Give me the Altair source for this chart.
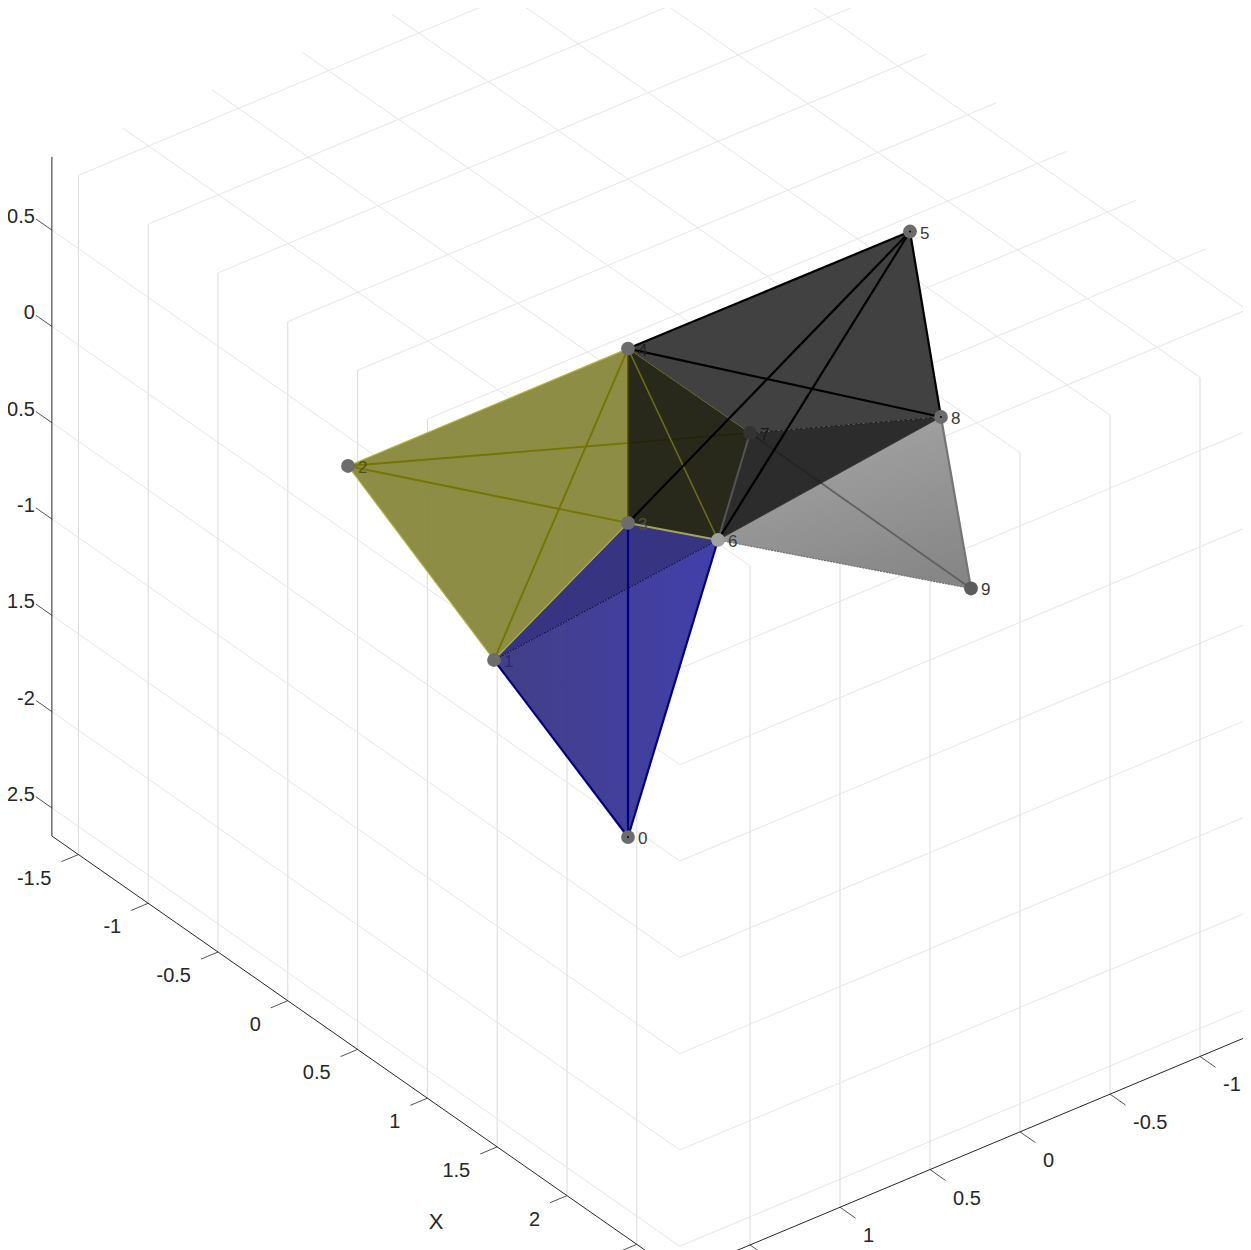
import altair as alt
import pandas as pd

# ---- data: tick values, axis limits, mesh vertices (x, y, z) ----
x_ticks = [-1.5, -1, -0.5, 0, 0.5, 1, 1.5, 2, 2.5]
y_ticks = [-1.5, -1, -0.5, 0, 0.5, 1, 1.5]
z_ticks = [-2.5, -2, -1.5, -1, -0.5, 0, 0.5]
x_tick_labels = ["-1.5", "-1", "-0.5", "0", "0.5", "1", "1.5", "2"]
y_tick_labels = ["-1", "-0.5", "0", "0.5", "1"]
x_lim = [-1.69, 2.808]
y_lim = [-1.66, 1.89]
z_lim = [-2.646, 0.88]

vx = [0.0, -0.2157, -1.2345, 0.0, 0.0, 0.6242, 0.2341, 0.2514, 1.2795, 1.2248]
vy = [0.0, 0.5772, 0.5981, 0.0, 0.0, -1.0826, -0.3185, -0.4828, -0.7465, -0.9557]
vz = [-2.536, -1.5, -1.0, -0.905, 0.0, 0.5, -1.0, -0.5, 0.0, -1.0]
vlabel = ["0", "1", "2", "3", "4", "5", "6", "7", "8", "9"]

W, H = 1235, 1242
FONT = "Liberation Sans"


# orthographic view of the axes box, as on the page
def proj(x, y, z):
    return 628 + 139.6 * x - 180 * y, 348.6 + 97.45 * x + 75.4 * y - 192.6 * z


V = list(zip(vx, vy, vz))
XS = alt.X("sx:Q", axis=None, scale=alt.Scale(domain=[8, 8 + W], range=[0, W], nice=False, zero=False))
YS = alt.Y("sy:Q", axis=None, scale=alt.Scale(domain=[8, 8 + H], range=[0, H], nice=False, zero=False))


def frame(paths):
    rows = []
    for i, pts in enumerate(paths):
        for j, p in enumerate(pts):
            sx, sy = proj(*p)
            rows.append({"id": i, "o": j, "sx": sx, "sy": sy})
    return pd.DataFrame(rows)


def lines(paths, color, width=1.0, dash=None, opacity=1.0):
    kw = dict(clip=True, color=color, strokeWidth=width, opacity=opacity)
    if dash:
        kw["strokeDash"] = dash
    return alt.Chart(frame(paths)).mark_line(**kw).encode(
        x=XS, y=YS, detail="id:N", order=alt.Order("o:Q"))


def edges(pairs, color, width=1.0, dash=None, opacity=1.0):
    return lines([[V[a], V[b]] for a, b in pairs], color, width, dash, opacity)


def face(idx, fill, opacity=0.94):
    pts = [V[i] for i in idx] + [V[idx[0]]]
    return alt.Chart(frame([pts])).mark_line(
        clip=True, fill=fill, fillOpacity=opacity, strokeWidth=0, strokeOpacity=0
    ).encode(x=XS, y=YS, detail="id:N", order=alt.Order("o:Q"))


def texts(df, size, color, align, dx=0, dy=0):
    return alt.Chart(df).mark_text(
        font=FONT, fontSize=size, color=color, align=align, baseline="middle", dx=dx, dy=dy
    ).encode(x=XS, y=YS, text="t:N")


def tick_df(pts, labels):
    rows = []
    for p, t in zip(pts, labels):
        sx, sy = proj(*p)
        rows.append({"sx": sx, "sy": sy, "t": t})
    return pd.DataFrame(rows)


def fmt(v):
    return ("%g" % v)


x0, x1 = x_lim
y0, y1 = y_lim
z0, z1 = z_lim

grid = (
    [[(v, y1, z0), (v, y1, z1)] for v in x_ticks]
    + [[(x1, v, z0), (x1, v, z1)] for v in y_ticks]
)
grid_light = (
    [[(x0, y1, v), (x1, y1, v)] for v in z_ticks]
    + [[(x1, y1, v), (x1, y0, v)] for v in z_ticks]
    + [[(v, y1, z1), (v, y0, z1)] for v in x_ticks]
    + [[(x0, v, z1), (x1, v, z1)] for v in y_ticks]
)
axis_lines = [
    [(x0, y1, z0), (x0, y1, z1)],
    [(x0, y1, z0), (x1, y1, z0)],
    [(x1, y1, z0), (x1, y0, z0)],
]
tick_marks = (
    [[(v, y1, z0), (v, y1 + 0.0944, z0)] for v in x_ticks]
    + [[(x1, v, z0), (x1 + 0.111, v, z0)] for v in y_ticks]
    + [[(x0, y1, v), (x0 - 0.115, y1, v)] for v in z_ticks]
)

gray_grad = alt.Gradient(gradient="linear", x1=0.3, y1=0, x2=0.7, y2=1,
                         stops=[alt.GradientStop(offset=0, color="#a0a0a0"),
                                alt.GradientStop(offset=1, color="#808080")])
blue_grad = alt.Gradient(gradient="linear", x1=0, y1=0.5, x2=1, y2=0.5,
                         stops=[alt.GradientStop(offset=0, color="#37337f"),
                                alt.GradientStop(offset=1, color="#3733a6")])

layers = [
    lines(grid, "#dadada", 1),
    lines(grid_light, "#e6e6e6", 1),
    lines(axis_lines, "#262626", 1),
    lines(tick_marks, "#262626", 0.8),
    texts(tick_df([(v, y1, z0) for v in x_ticks[:8]], x_tick_labels), 20, "#262626", "right", -27, 24),
    texts(tick_df([(x1, v, z0) for v in y_ticks[1:6]], y_tick_labels), 20, "#262626", "left", 23, 29),
    texts(tick_df([(x0, y1, v) for v in z_ticks], [fmt(v) for v in z_ticks]), 20, "#262626", "right", -17, -13),
    texts(tick_df([(1.817, 2.476, z0)], ["X"]), 22, "#262626", "center"),
    # gray tetrahedron
    face([6, 8, 9], gray_grad, 0.95),
    edges([(8, 9)], "#757575", 2.2),
    edges([(6, 9)], "#6f6f6f", 1.2, dash=[2, 1]),
    edges([(7, 9)], "#606060", 1.8),
    # blue tetrahedron
    face([0, 1, 6], blue_grad),
    face([1, 3, 6], "#2b2879"),
    edges([(0, 3), (0, 1), (0, 6)], "#000080", 2.2),
    edges([(3, 1)], "#1c1a60", 1),
    edges([(1, 6)], "#15154a", 1.2, dash=[2, 1]),
    # yellow
    face([2, 4, 3, 1], "#86863a"),
    face([4, 7, 6, 3], "#86863a", 1),
    edges([(2, 3), (2, 7), (1, 4)], "#757500", 1.9),
    # black tetrahedron over the yellow one
    face([4, 7, 6, 3], "#06060f", 0.72),
    face([4, 5, 8, 7], "#353535"),
    face([7, 8, 6], "#1f1f1f"),
    edges([(6, 7)], "#555555", 2),
    edges([(7, 8)], "#1a1a1a", 1, dash=[3, 2]),
    edges([(6, 8)], "#333333", 1),
    edges([(2, 4), (1, 2), (1, 3)], "#b4b43c", 1.2),
    edges([(4, 6)], "#6e6e18", 1.5),
    edges([(4, 7)], "#6a6a18", 1, dash=[2, 1]),
    edges([(3, 6)], "#a4a45c", 2),
    edges([(3, 4)], "#4b4b00", 1.5),
    edges([(4, 5), (5, 8), (4, 8), (5, 3), (5, 6)], "#000000", 2.2),
]

pts = pd.DataFrame({"sx": [proj(*p)[0] for p in V], "sy": [proj(*p)[1] for p in V],
                    "t": vlabel, "i": list(range(10))})

marker_groups = [([0, 1, 2, 3, 4, 5, 8], "#6c6c6c"), ([9], "#5c5c5c"), ([6], "#a0a0a0"), ([7], "#333333")]
for ids, col in marker_groups:
    d = pts[pts["i"].isin(ids)]
    layers.append(alt.Chart(d).mark_point(filled=True, size=190, color=col, opacity=1, shape="circle").encode(
        x=XS, y=YS))
layers.append(alt.Chart(pts[pts["i"].isin([0, 5, 8])]).mark_point(
    filled=True, size=5, color="#111111", opacity=1, shape="circle").encode(x=XS, y=YS))

label_groups = [([0, 5, 6, 8, 9], "#3a3a3a"), ([1], "#2a2a68"), ([2], "#50501c"), ([4], "#1c1c1c"), ([7], "#181818"), ([3], "#50503a")]
for ids, col in label_groups:
    d = pts[pts["i"].isin(ids)]
    layers.append(texts(d, 17, col, "left", 10, 2))

chart = alt.layer(*layers).properties(
    width=W, height=H, padding=0, autosize=alt.AutoSizeParams(type="none"), background="white"
).configure_view(stroke=None)

chart.save("out.html", embed_options={"renderer": "svg", "actions": False})
